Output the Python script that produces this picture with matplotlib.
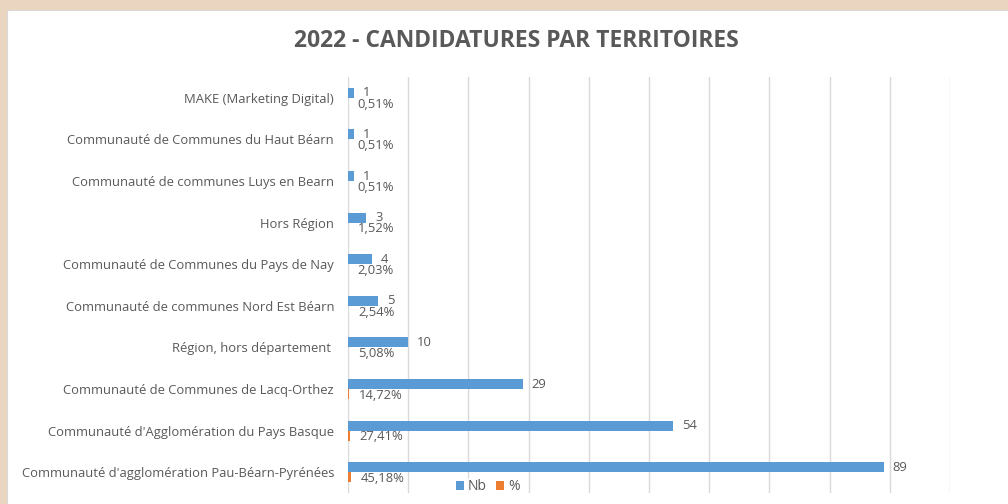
import matplotlib.pyplot as plt
from matplotlib.patches import Rectangle
import numpy as np

territoires = [
    "MAKE (Marketing Digital)",
    "Communauté de Communes du Haut Béarn",
    "Communauté de communes Luys en Bearn",
    "Hors Région",
    "Communauté de Communes du Pays de Nay",
    "Communauté de communes Nord Est Béarn",
    "Région, hors département ",
    "Communauté de Communes de Lacq-Orthez",
    "Communauté d'Agglomération du Pays Basque",
    "Communauté d'agglomération Pau-Béarn-Pyrénées",
]
nb = [1, 1, 1, 3, 4, 5, 10, 29, 54, 89]
pct = [0.0051, 0.0051, 0.0051, 0.0152, 0.0203, 0.0254, 0.0508, 0.1472, 0.2741, 0.4518]
pct_labels = ["0,51%", "0,51%", "0,51%", "1,52%", "2,03%", "2,54%", "5,08%", "14,72%", "27,41%", "45,18%"]

grey = "#595959"
blue = "#5B9BD5"
orange = "#ED7D31"

plt.rcParams['font.family'] = ['Open Sans', 'DejaVu Sans']

fig = plt.figure(figsize=(10.08, 5.04), dpi=100)
fig.patch.set_facecolor("#EAD6C0")
# white chart panel
fig.patches.append(Rectangle((7/1008, -0.1), 1.1, 1 - 10/504 + 0.1, transform=fig.transFigure,
                             facecolor="white", edgecolor="#D9D9D9", lw=0.8, zorder=-10))

ax = fig.add_axes([348/1008, 1 - 493/504, (950 - 348)/1008, (493 - 77)/504])
ax.set_facecolor("none")

y = np.arange(len(territoires))
h = 0.24
ax.barh(y - h/2, nb, height=h, color=blue, label="Nb", zorder=2)
ax.barh(y + h/2, pct, height=h, color=orange, label="%", zorder=2)

for i in range(len(territoires)):
    ax.annotate(str(nb[i]), (nb[i], y[i] - h/2), xytext=(6.5, 0), textcoords="offset points",
                ha="left", va="center", fontsize=9.4, color=grey)
    ax.annotate(pct_labels[i], (pct[i], y[i] + h/2), xytext=(7, -1), textcoords="offset points",
                ha="left", va="center", fontsize=9.4, color=grey)

ax.set_xlim(0, 100)
ax.set_ylim(len(territoires) - 0.5, -0.5)
ax.set_xticks(np.arange(0, 101, 10))
ax.set_xticklabels([])
ax.set_yticks(y)
ax.set_yticklabels(territoires, fontsize=9.4, color=grey)
ax.tick_params(length=0, pad=10)
ax.xaxis.grid(True, color="#D9D9D9", lw=1.0, zorder=0)
ax.set_axisbelow(True)
for s in ax.spines.values():
    s.set_visible(False)

fig.text(0.512, 0.918, "2022 - CANDIDATURES PAR TERRITOIRES", ha="center", va="center",
         fontsize=16.5, fontweight="bold", color=grey)

leg = fig.legend(loc="center", bbox_to_anchor=(0.484, 0.034), ncol=2, frameon=True,
                 fontsize=10, handlelength=0.55, handleheight=0.55, handletextpad=0.3,
                 columnspacing=0.7, borderpad=0.1, labelcolor=grey)
leg.get_frame().set_edgecolor("none")
leg.get_frame().set_facecolor("white")

fig.savefig("out.png", dpi=100)
